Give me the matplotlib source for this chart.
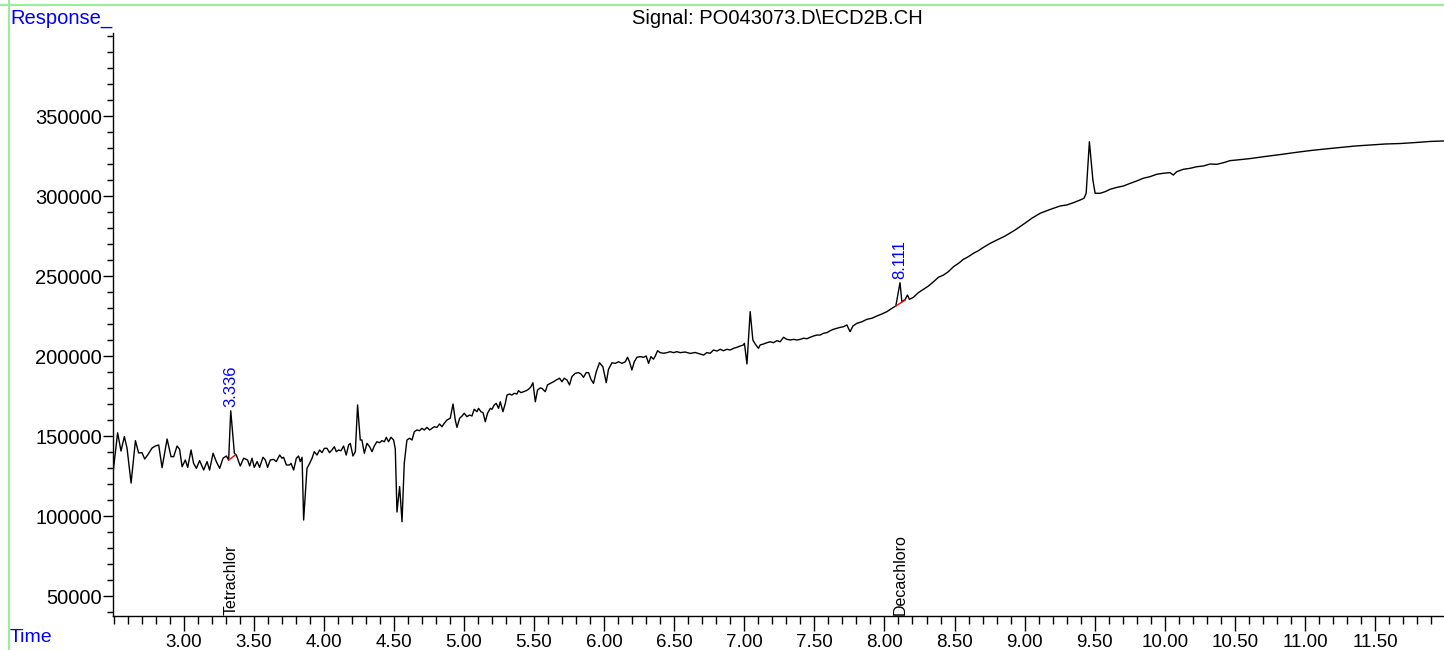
import matplotlib
matplotlib.use("Agg")
import matplotlib.pyplot as plt
from matplotlib.ticker import MultipleLocator, FixedLocator, FormatStrFormatter
from matplotlib.lines import Line2D

plt.rcParams['font.family'] = ['Liberation Sans', 'DejaVu Sans']

# retention time (min)
time_min = [
    2.496, 2.529, 2.553, 2.577, 2.596, 2.625, 2.656, 2.679, 2.703, 2.722,
    2.743, 2.775, 2.798, 2.822, 2.846, 2.882, 2.910, 2.929, 2.953, 2.971,
    2.989, 3.012, 3.029, 3.053, 3.071, 3.091, 3.114, 3.143, 3.167, 3.185,
    3.210, 3.233, 3.257, 3.281, 3.305, 3.321, 3.336, 3.362, 3.376, 3.404,
    3.428, 3.456, 3.471, 3.488, 3.504, 3.524, 3.542, 3.566, 3.583, 3.599,
    3.618, 3.642, 3.661, 3.685, 3.702, 3.713, 3.733, 3.756, 3.766, 3.785,
    3.804, 3.820, 3.832, 3.845, 3.856, 3.880, 3.899, 3.916, 3.932, 3.951,
    3.970, 3.987, 4.004, 4.023, 4.041, 4.058, 4.075, 4.089, 4.106, 4.123,
    4.141, 4.160, 4.177, 4.189, 4.208, 4.225, 4.241, 4.260, 4.272, 4.289,
    4.308, 4.327, 4.344, 4.360, 4.379, 4.398, 4.415, 4.432, 4.446, 4.462,
    4.479, 4.498, 4.510, 4.522, 4.541, 4.558, 4.574, 4.593, 4.612, 4.629,
    4.646, 4.665, 4.683, 4.700, 4.717, 4.736, 4.755, 4.772, 4.788, 4.807,
    4.826, 4.843, 4.859, 4.879, 4.902, 4.922, 4.938, 4.950, 4.969, 4.986,
    5.002, 5.021, 5.040, 5.057, 5.073, 5.093, 5.104, 5.121, 5.136, 5.152,
    5.168, 5.188, 5.200, 5.216, 5.230, 5.247, 5.259, 5.278, 5.295, 5.307,
    5.325, 5.342, 5.359, 5.378, 5.389, 5.407, 5.425, 5.444, 5.461, 5.478,
    5.492, 5.509, 5.525, 5.544, 5.556, 5.580, 5.596, 5.616, 5.639, 5.658,
    5.682, 5.699, 5.715, 5.735, 5.753, 5.770, 5.794, 5.817, 5.835, 5.853,
    5.872, 5.889, 5.906, 5.924, 5.944, 5.967, 5.991, 6.015, 6.031, 6.056,
    6.079, 6.103, 6.127, 6.151, 6.167, 6.181, 6.198, 6.215, 6.234, 6.257,
    6.281, 6.300, 6.317, 6.334, 6.352, 6.365, 6.381, 6.400, 6.424, 6.448,
    6.471, 6.495, 6.519, 6.543, 6.578, 6.614, 6.649, 6.684, 6.709, 6.733,
    6.757, 6.780, 6.805, 6.828, 6.852, 6.876, 6.899, 6.923, 6.947, 6.971,
    6.994, 7.001, 7.019, 7.042, 7.061, 7.078, 7.101, 7.113, 7.137, 7.161,
    7.185, 7.208, 7.233, 7.256, 7.280, 7.304, 7.327, 7.351, 7.375, 7.399,
    7.422, 7.447, 7.470, 7.494, 7.518, 7.541, 7.565, 7.589, 7.613, 7.636,
    7.661, 7.684, 7.708, 7.732, 7.743, 7.755, 7.775, 7.803, 7.839, 7.874,
    7.910, 7.946, 7.981, 8.017, 8.053, 8.081, 8.111, 8.124, 8.148, 8.164,
    8.178, 8.207, 8.242, 8.278, 8.314, 8.350, 8.385, 8.421, 8.456, 8.492,
    8.528, 8.563, 8.599, 8.635, 8.670, 8.706, 8.754, 8.802, 8.861, 8.932,
    9.004, 9.054, 9.111, 9.158, 9.205, 9.253, 9.301, 9.348, 9.396, 9.424,
    9.439, 9.462, 9.487, 9.503, 9.539, 9.574, 9.610, 9.658, 9.705, 9.753,
    9.800, 9.847, 9.895, 9.943, 9.990, 10.037, 10.061, 10.085, 10.133, 10.180,
    10.228, 10.275, 10.323, 10.371, 10.418, 10.466, 10.513, 10.610, 10.717, 10.824,
    10.931, 11.038, 11.145, 11.252, 11.359, 11.466, 11.573, 11.680, 11.787, 11.894,
    11.992,
]

# detector response
response = [
    126900, 152000, 140600, 149600, 142500, 120600, 147100, 139400, 139600, 135600,
    138100, 142500, 143750, 144400, 130200, 148100, 137100, 137100, 143750, 141700,
    130800, 135000, 130400, 141250, 132900, 129800, 134600, 128750, 134000, 128750,
    139200, 134000, 129800, 136100, 137500, 135000, 165800, 139200, 138100, 131250,
    136100, 135000, 131250, 136100, 130400, 134000, 130400, 136700, 135000, 130400,
    135000, 135400, 134000, 138100, 136100, 136700, 131900, 131900, 132900, 128750,
    136100, 137500, 134000, 136700, 97500, 129800, 132900, 136100, 140200, 138100,
    141250, 139600, 142300, 142300, 139600, 141250, 143300, 140200, 141250, 140800,
    143750, 138100, 144400, 145400, 137500, 140200, 169400, 147500, 147500, 139200,
    145400, 143300, 140200, 143750, 146400, 145800, 147100, 146400, 149200, 146400,
    149200, 147500, 141900, 102500, 118400, 96400, 132900, 147500, 148600, 147500,
    152700, 153750, 153300, 154800, 153750, 155400, 153750, 154800, 155800, 155400,
    157500, 155800, 157900, 160000, 161100, 170000, 160000, 155400, 161100, 162500,
    164200, 162100, 163100, 162500, 166700, 165200, 167300, 165200, 164600, 158900,
    164200, 167300, 166700, 169400, 170400, 167300, 171400, 165200, 170400, 175600,
    176250, 175600, 176700, 176250, 178300, 177100, 177700, 178300, 179200, 180800,
    183300, 171400, 178750, 180000, 179800, 177700, 181900, 182900, 183900, 185000,
    186100, 183900, 186100, 185000, 181900, 187100, 189200, 189600, 188750, 186700,
    189600, 189600, 185400, 182900, 190200, 195800, 193300, 183300, 191700, 195800,
    195400, 196400, 195400, 196400, 199200, 196400, 191250, 196400, 199200, 199600,
    199200, 200000, 195400, 199600, 198000, 200000, 203300, 202100, 201700, 202100,
    202700, 202100, 202700, 202100, 202500, 201600, 202200, 201250, 200600, 202100,
    201700, 203750, 203100, 204200, 203300, 204200, 203750, 204800, 205400, 206250,
    206900, 207900, 195000, 227700, 210000, 207500, 204800, 206900, 207500, 208300,
    208900, 208300, 209600, 208900, 211700, 210400, 210000, 210400, 210000, 210400,
    211100, 210800, 211700, 212500, 213100, 213100, 214200, 214600, 215800, 216700,
    217300, 217900, 218300, 219400, 217300, 215200, 218750, 220400, 221400, 222900,
    223600, 225000, 226250, 227700, 229800, 231250, 245800, 233900, 235400, 238100,
    235400, 236700, 239600, 241700, 243750, 246400, 249200, 250600, 252700, 255800,
    257900, 260400, 262100, 264200, 265800, 267900, 270400, 272500, 275000, 278750,
    283100, 286250, 289200, 290800, 292300, 293750, 294400, 295800, 297500, 298600,
    301700, 333900, 310000, 301700, 301700, 302700, 304200, 305400, 306250, 307900,
    309400, 311100, 312100, 313600, 314200, 314600, 313100, 315200, 316700, 317300,
    318300, 318750, 320000, 319800, 320800, 322100, 322500, 323400, 324700, 325900,
    327200, 328400, 329400, 330300, 331250, 331900, 332500, 332800, 333400, 334100,
    334400,
]

# integrated peaks: retention time, apex, baseline start/end
peak_rt = [3.336, 8.111]
peak_apex = [165800, 245800]
base_t0 = [3.321, 8.081]
base_t1 = [3.369, 8.148]
base_v0 = [135000, 231250]
base_v1 = [138100, 235000]

compound_names = ['Tetrachlor', 'Decachloro']

y_ticks = [50000, 100000, 150000, 200000, 250000, 300000, 350000]

fig = plt.figure(figsize=(14.44, 6.5), dpi=100)
ax = fig.add_axes([113 / 1444, 34 / 650, 1 - 113 / 1444, 583 / 650])

ax.plot(time_min, response, color='black', lw=1.0)
for i in range(len(peak_rt)):
    ax.plot([base_t0[i], base_t1[i]], [base_v0[i], base_v1[i]], color='red', lw=1.0)
    ax.text(peak_rt[i], peak_apex[i] + 2500, f"{peak_rt[i]:.3f}", rotation=90,
            ha='center', va='bottom', color='blue', fontsize=12)
    ax.text(peak_rt[i], 38000, compound_names[i], rotation=90,
            ha='center', va='bottom', color='black', fontsize=11.5)

ax.set_xlim(2.496, 11.992)
ax.set_ylim(37500, 401875)

ax.xaxis.set_minor_locator(MultipleLocator(0.1))
ax.set_xticks([x / 2 for x in range(6, 24)])
ax.xaxis.set_major_formatter(FormatStrFormatter('%.2f'))
ax.yaxis.set_major_locator(FixedLocator(y_ticks))
ax.yaxis.set_minor_locator(MultipleLocator(10000))

ax.tick_params(axis='x', which='major', length=11, width=1, labelsize=13.5, pad=2)
ax.tick_params(axis='x', which='minor', length=6, width=1)
ax.tick_params(axis='y', which='major', length=7, width=1, labelsize=14.5, pad=1)
ax.tick_params(axis='y', which='minor', length=4, width=1)

for side in ['top', 'right']:
    ax.spines[side].set_visible(False)
for side in ['left', 'bottom']:
    ax.spines[side].set_linewidth(1.0)

# frame lines and header texts
green = '#99ee99'
fig.add_artist(Line2D([9 / 1444, 9 / 1444], [0, 1], color=green, lw=1.5, transform=fig.transFigure))
fig.add_artist(Line2D([0, 1], [1 - 5 / 650, 1 - 5 / 650], color=green, lw=1.5, transform=fig.transFigure))

fig.text(10 / 1444, 1 - 18 / 650, 'Response_', color='blue', fontsize=14.5, ha='left', va='center')
fig.text(10 / 1444, 1 - 637 / 650, 'Time', color='blue', fontsize=14, ha='left', va='center')
fig.text(777 / 1444, 1 - 18 / 650, r'Signal: PO043073.D\ECD2B.CH', color='black',
         fontsize=14.5, ha='center', va='center')

fig.savefig('out.png', dpi=100)
